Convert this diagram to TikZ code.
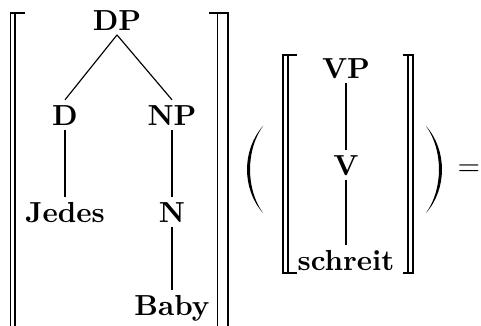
\documentclass[tikz,border=0pt]{standalone}
\begin{document}
\begin{tikzpicture}[x=0.3451pt,y=-0.3451pt,
  lbl/.style={font=\bfseries, inner sep=1.5pt, anchor=base, text height=7pt, text depth=0pt},
  edge/.style={line width=0.4pt},
  brk/.style={line width=0.65pt},
  brkthin/.style={line width=0.55pt}]
\useasboundingbox (0,0) rectangle (481,325);
% big outer double brackets
\draw[brk] (25,13) -- (10.5,13) -- (10.5,335);
\draw[brkthin] (15,13) -- (15,335);
\draw[brk] (209,13) -- (228,13) -- (228,335);
\draw[brkthin] (217.5,13) -- (217.5,335);
% tree DP
\node[lbl] (dp) at (117,30) {DP};
\node[lbl] (d) at (65,125) {D};
\node[lbl] (np) at (172,125) {NP};
\node[lbl] (jedes) at (65,222) {Jedes};
\node[lbl] (n) at (172,222) {N};
\node[lbl] (baby) at (172,315) {Baby};
\draw[edge] (dp.south) -- (d.north);
\draw[edge] (dp.south) -- (np.north);
\draw[edge] (d.south) -- (jedes.north);
\draw[edge] (np.south) -- (n.north);
\draw[edge] (n.south) -- (baby.north);
% parentheses
\fill (263,126) .. controls (241.7,150) and (241.7,189) .. (263,213)
  .. controls (245.7,189) and (245.7,150) .. (263,126) -- cycle;
\fill (426,126) .. controls (447.3,150) and (447.3,189) .. (426,213)
  .. controls (443.3,189) and (443.3,150) .. (426,126) -- cycle;
% inner double brackets
\draw[brk] (297,55) -- (283,55) -- (283,273) -- (297,273);
\draw[brkthin] (288,55) -- (288,273);
\draw[brk] (403,55) -- (413,55) -- (413,273) -- (403,273);
\draw[brkthin] (408,55) -- (408,273);
% tree VP
\node[lbl] (vp) at (346,78) {VP};
\node[lbl] (v) at (346,175) {V};
\node[lbl] (schreit) at (346,270) {schreit};
\draw[edge] (vp.south) -- (v.north);
\draw[edge] (v.south) -- (schreit.north);
% equals
\node[inner sep=0pt] (eq) at (469,170) {$=$};
\end{tikzpicture}
\end{document}
